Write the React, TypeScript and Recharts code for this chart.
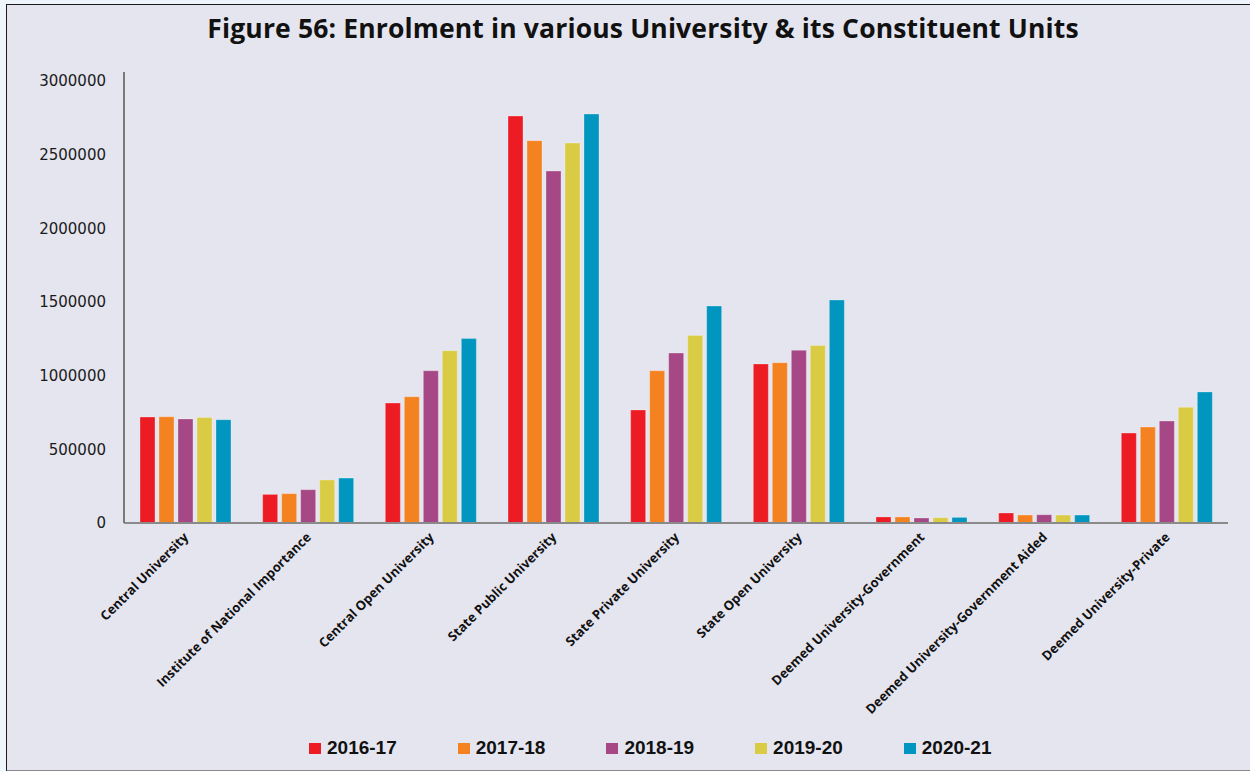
import { BarChart, Bar, XAxis, YAxis, Legend } from 'recharts';

const categories = [
  'Central University',
  'Institute of National Importance',
  'Central Open University',
  'State Public University',
  'State Private University',
  'State Open University',
  'Deemed University-Government',
  'Deemed University-Government Aided',
  'Deemed University-Private',
];

const years = ['2016-17', '2017-18', '2018-19', '2019-20', '2020-21'];
const colors = ['#ED1C24', '#F58220', '#A54885', '#D9CC44', '#0096BF'];

const enrol2016 = [719000, 194000, 814000, 2761000, 767000, 1079000, 41000, 68000, 610000];
const enrol2017 = [721000, 199000, 857000, 2594000, 1033000, 1088000, 41000, 54000, 651000];
const enrol2018 = [706000, 226000, 1033000, 2388000, 1153000, 1172000, 34000, 56000, 692000];
const enrol2019 = [716000, 292000, 1169000, 2578000, 1273000, 1205000, 36000, 54000, 785000];
const enrol2020 = [701000, 305000, 1251000, 2775000, 1472000, 1513000, 38000, 54000, 889000];

const yTicks = [0, 500000, 1000000, 1500000, 2000000, 2500000, 3000000];

const series = [enrol2016, enrol2017, enrol2018, enrol2019, enrol2020];

const data = categories.map((name, i) => {
  const row: Record<string, string | number> = { name };
  years.forEach((y, k) => {
    row[y] = series[k][i];
  });
  return row;
});

function AngledTick({ x, y, payload }: any) {
  return (
    <g transform={`translate(${x + 4},${y + 7})`}>
      <text
        x={0}
        y={0}
        textAnchor="end"
        transform="rotate(-45)"
        fontFamily="'Open Sans', sans-serif"
        fontWeight={700}
        fontSize={13}
        fill="#111"
      >
        {payload.value}
      </text>
    </g>
  );
}

function LegendBox({ payload }: any) {
  return (
    <div style={{ display: 'flex' }}>
      {(payload || []).map((entry: any) => (
        <div
          key={entry.value}
          style={{ width: 148.7, display: 'flex', alignItems: 'center' }}
        >
          <span
            style={{
              width: 12,
              height: 11,
              background: entry.color,
              marginRight: 6,
              display: 'inline-block',
            }}
          />
          <span
            style={{
              fontFamily: "'Liberation Sans', Arial, sans-serif",
              fontWeight: 700,
              fontSize: 19,
              color: '#111',
              lineHeight: '22px',
            }}
          >
            {entry.value}
          </span>
        </div>
      ))}
    </div>
  );
}

export default function App() {
  return (
    <div
      style={{
        position: 'fixed',
        left: 0,
        top: 0,
        width: 1250,
        height: 771,
        background: '#EEF5FC',
        overflow: 'hidden',
      }}
    >
      <div
        style={{
          position: 'absolute',
          left: 6,
          top: 4,
          width: 1260,
          height: 765,
          background: '#E5E5EF',
          borderLeft: '1.5px solid #1a1a1a',
          borderTop: '1.5px solid #1a1a1a',
          borderBottom: '2px solid #8a8a8a',
        }}
      />
      <div
        style={{
          position: 'absolute',
          left: 0,
          top: 13,
          width: 1286,
          textAlign: 'center',
          fontFamily: "'Open Sans', sans-serif",
          fontWeight: 700,
          fontSize: 26.5,
          letterSpacing: 0.15,
          lineHeight: '30px',
          color: '#111',
          whiteSpace: 'nowrap',
        }}
      >
        Figure 56: Enrolment in various University &amp; its Constituent Units
      </div>
      <div style={{ position: 'absolute', left: 0, top: 0 }}>
        <BarChart
          width={1250}
          height={771}
          data={data}
          margin={{ top: 72, right: 22, left: 0, bottom: 0 }}
          barSize={15}
          barGap={4}
        >
          <XAxis
            dataKey="name"
            interval={0}
            height={248}
            tickLine={false}
            axisLine={{ stroke: '#8a8a8a', strokeWidth: 2 }}
            tick={<AngledTick />}
          />
          <YAxis
            width={124}
            domain={[0, 3060000]}
            ticks={yTicks}
            interval={0}
            tickLine={false}
            tickSize={6}
            tickMargin={12}
            axisLine={{ stroke: '#7a7a7a', strokeWidth: 2 }}
            tick={{ fontFamily: "'DejaVu Sans', sans-serif", fontSize: 15, fill: '#1a1a1a' }}
          />
          <Legend
            verticalAlign="middle"
            align="center"
            content={<LegendBox />}
            wrapperStyle={{ top: 737, left: 309, width: 760, height: 22 }}
          />
          {years.map((y, k) => (
            <Bar
              key={y}
              dataKey={y}
              fill={colors[k]}
              stroke="#ffffff"
              strokeOpacity={0.35}
              strokeWidth={0.8}
              isAnimationActive={false}
            />
          ))}
        </BarChart>
      </div>
    </div>
  );
}
